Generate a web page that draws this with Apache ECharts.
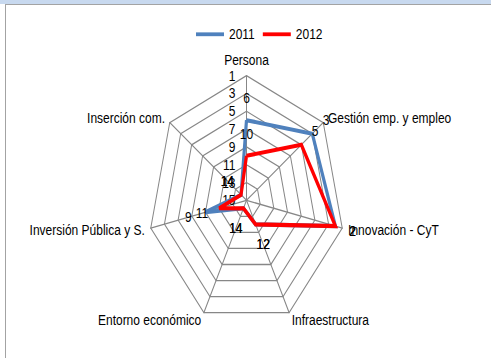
<!DOCTYPE html>
<html>
<head>
<meta charset="utf-8">
<script src="https://cdn.jsdelivr.net/npm/echarts@6/dist/echarts.min.js"></script>
<style>
  html, body { margin: 0; padding: 0; background: #fff; overflow: hidden; }
  #strip { position: absolute; left: 0; top: 0; width: 491px; height: 4px; background: #c8d9ef; }
  #frame { position: absolute; left: 5px; top: 4px; width: 520px; height: 400px;
           border-left: 1px solid #a3a3a3; border-top: 1px solid #a3a3a3; }
  #chart { position: absolute; left: 0; top: 0; width: 491px; height: 282px;
           transform-origin: 0 0; transform: scaleY(1.2695); }
</style>
</head>
<body>
<div id="strip"></div>
<div id="frame"></div>
<div id="chart"></div>
<script>
// Axes of the radar, clockwise from the top
const indicatorNames = ['Persona', 'Gestión emp. y empleo', 'Innovación - CyT', 'Infraestructura',
                        'Entorno económico', 'Inversión Pública y S.', 'Inserción com.'];
// Ranking positions (1 = best, drawn at the outer ring)
const rank2011 = [6, 3, 2, 12, 14, 9, 14];
const rank2012 = [10, 5, 2, 12, 14, 11, 14];
const seriesNames = ['2011', '2012'];
const rankBest = 1;
const rankWorst = 15;

// ECharts lays radar spokes out counter-clockwise; walk the list backwards
// (keeping the first axis on top) so they read clockwise.
const order = [0].concat(indicatorNames.map((_, i) => i).slice(1).reverse());

// The value axis is reversed: best rank on the rim, worst rank in the centre
const toAxis = r => rankBest + rankWorst - r;
// Data labels sit a little outside their point, along the spoke
const labelShift = 2.5;

const colors = ['#4f81bd', '#ff0000'];
const font = 'Liberation Sans, Arial, sans-serif';

const chart = echarts.init(document.getElementById('chart'), null, { renderer: 'svg' });

const indicator = order.map((i, k) => {
  const ind = { name: indicatorNames[i], min: rankBest, max: rankWorst };
  if (k === 0) {
    ind.axisLabel = { show: true };
    ind.nameTextStyle = { verticalAlign: 'bottom' };
  }
  return ind;
});

function lineSeries(name, ranks, color) {
  return {
    type: 'radar',
    name: name,
    color: color,
    symbol: 'none',
    lineStyle: { color: color, width: 3.2, join: 'miter', miterLimit: 4 },
    data: [{ name: name, value: order.map(i => toAxis(ranks[i])) }],
    z: 3
  };
}

function labelSeries(name, ranks) {
  return {
    type: 'radar',
    name: name + ' valores',
    silent: true,
    symbol: 'circle',
    symbolSize: 1,
    itemStyle: { color: 'rgba(0,0,0,0)' },
    lineStyle: { width: 0, opacity: 0 },
    label: {
      show: true,
      position: 'inside',
      color: '#000',
      fontFamily: font,
      fontSize: 12,
      formatter: p => String(ranks[order[p.dimensionIndex]])
    },
    data: [{ name: name + ' valores', value: order.map(i => toAxis(ranks[i] - labelShift)) }],
    z: 4
  };
}

chart.setOption({
  animation: false,
  legend: {
    data: seriesNames,
    left: 191,
    top: 16,
    icon: 'rect',
    itemWidth: 28,
    itemHeight: 3,
    itemGap: 8,
    selectedMode: false,
    textStyle: { color: '#000', fontFamily: font, fontSize: 12 }
  },
  radar: {
    center: [246.5, 157.8],
    radius: 98.2,
    shape: 'polygon',
    splitNumber: 7,
    startAngle: 90,
    axisNameGap: 6,
    axisName: { color: '#000', fontFamily: font, fontSize: 12, verticalAlign: 'middle' },
    axisLine: { show: true, lineStyle: { color: '#878787', width: 1 } },
    splitLine: { show: true, lineStyle: { color: '#878787', width: 1 } },
    splitArea: { show: false },
    axisTick: { show: false },
    axisLabel: {
      show: false,
      color: '#000',
      fontFamily: font,
      fontSize: 12,
      margin: 11,
      formatter: v => String(rankBest + rankWorst - v)
    },
    indicator: indicator
  },
  series: [
    lineSeries(seriesNames[0], rank2011, colors[0]),
    lineSeries(seriesNames[1], rank2012, colors[1]),
    labelSeries(seriesNames[0], rank2011),
    labelSeries(seriesNames[1], rank2012)
  ]
});
</script>
</body>
</html>
